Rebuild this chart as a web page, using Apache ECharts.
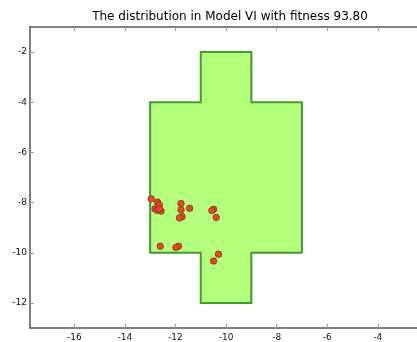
<!DOCTYPE html>
<html>
<head>
<meta charset="utf-8">
<script src="https://cdn.jsdelivr.net/npm/echarts@6/dist/echarts.min.js"></script>
<style>
  html, body { margin: 0; padding: 0; background: #fff; }
  #chart { width: 417px; height: 342px; }
</style>
</head>
<body>
<div id="chart"></div>
<script>
// Cross-shaped region outline (closed polygon vertices)
const shapeX = [-11, -9, -9, -7, -7, -9, -9, -11, -11, -13, -13, -11];
const shapeY = [-2, -2, -4, -4, -10, -10, -12, -12, -10, -10, -4, -4];

// Individual positions
const pointsX = [-12.96, -12.71, -12.64, -12.81, -12.73, -12.57, -12.63,
                 -11.78, -11.78, -11.44, -11.74, -11.84,
                 -10.49, -10.56, -10.39,
                 -12.60, -11.88, -11.98, -10.30, -10.49];
const pointsY = [-7.85, -7.98, -8.09, -8.25, -8.31, -8.34, -8.25,
                 -8.04, -8.29, -8.23, -8.56, -8.61,
                 -8.27, -8.32, -8.59,
                 -9.74, -9.74, -9.79, -10.06, -10.33];

// Tick positions
const xTicks = [-16, -14, -12, -10, -8, -6, -4];
const yTicks = [-12, -10, -8, -6, -4, -2];

const titleText = 'The distribution in Model VI with fitness 93.80';

const chart = echarts.init(document.getElementById('chart'), null, { renderer: 'canvas' });

const axisLineStyle = { color: '#555', width: 1.5 };
const tickStyle = { color: '#999', width: 1 };
const labelStyle = { color: '#111', fontSize: 9, fontFamily: 'DejaVu Sans' };

chart.setOption({
  animation: false,
  title: {
    text: titleText,
    left: 225,
    textAlign: 'center',
    top: 6,
    textStyle: { fontFamily: 'DejaVu Sans', fontSize: 12, fontWeight: 'normal', color: '#000' }
  },
  grid: { left: 30, top: 27, right: 0, bottom: 12, containLabel: false },
  xAxis: [{
    type: 'value', position: 'bottom', min: -17.75, max: -2.45,
    axisLine: { show: true, onZero: false, lineStyle: axisLineStyle },
    axisTick: { show: true, inside: true, length: 4, lineStyle: tickStyle, customValues: xTicks },
    axisLabel: Object.assign({ margin: 5, customValues: xTicks }, labelStyle),
    splitLine: { show: false }
  }, {
    type: 'value', position: 'top', min: -17.75, max: -2.45,
    axisLine: { show: true, onZero: false, lineStyle: axisLineStyle },
    axisTick: { show: true, inside: true, length: 4, lineStyle: tickStyle, customValues: xTicks },
    axisLabel: { show: false },
    splitLine: { show: false }
  }],
  yAxis: [{
    type: 'value', position: 'left', min: -13, max: -1,
    axisLine: { show: true, onZero: false, lineStyle: axisLineStyle },
    axisTick: { show: true, inside: true, length: 4, lineStyle: tickStyle, customValues: yTicks },
    axisLabel: Object.assign({ margin: 3, customValues: yTicks }, labelStyle),
    splitLine: { show: false }
  }],
  series: [{
    type: 'custom',
    xAxisIndex: 0, yAxisIndex: 0,
    data: shapeX.map((x, i) => [x, shapeY[i]]),
    renderItem: function (params, api) {
      if (params.dataIndex !== 0) return null;
      const pts = shapeX.map((x, i) => api.coord([x, shapeY[i]]));
      return {
        type: 'polygon',
        shape: { points: pts },
        style: { fill: '#b4ff7c', stroke: '#3e9e28', lineWidth: 2, lineJoin: 'miter' },
        z2: 0
      };
    },
    silent: true,
    z: 1
  }, {
    type: 'scatter',
    xAxisIndex: 0, yAxisIndex: 0,
    data: pointsX.map((x, i) => [x, pointsY[i]]),
    symbolSize: 6.5,
    itemStyle: { color: '#e8472a', borderColor: '#7a2a14', borderWidth: 0.7, opacity: 1 },
    z: 3
  }]
});
</script>
</body>
</html>
